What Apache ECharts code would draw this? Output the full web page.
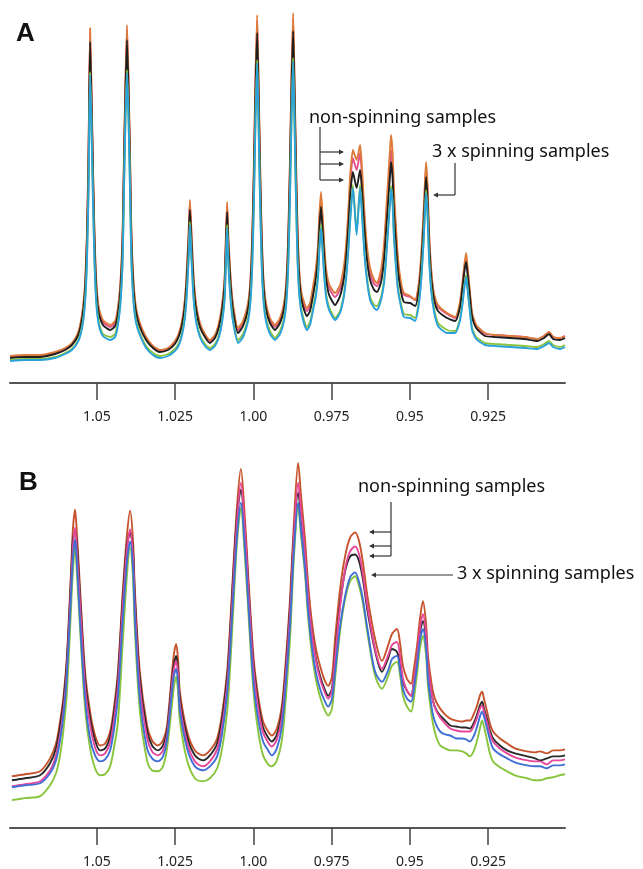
<!DOCTYPE html>
<html>
<head>
<meta charset="utf-8">
<script src="https://cdn.jsdelivr.net/npm/echarts@6/dist/echarts.min.js"></script>
<style>
  html, body { margin: 0; padding: 0; background: #fff; }
  #chart { width: 643px; height: 869px; }
</style>
</head>
<body>
<div id="chart"></div>
<script>
// chemical shift ticks (ppm), same for both panels
const tickValues = [1.05, 1.025, 1.0, 0.975, 0.95, 0.925];
const tickLabels = ["1.05", "1.025", "1.00", "0.975", "0.95", "0.925"];

// ---- panel A : ppm positions and intensities of the 5 spectra ----
const ppmA = [
  1.0778, 1.0730, 1.0682, 1.0634, 1.0602, 1.0580, 1.0561, 1.0551, 1.0543, 1.0537,
  1.0532, 1.0527, 1.0522, 1.0518, 1.0513, 1.0508, 1.0502, 1.0494, 1.0481, 1.0458,
  1.0442, 1.0433, 1.0425, 1.0418, 1.0414, 1.0409, 1.0404, 1.0399, 1.0394, 1.0390,
  1.0383, 1.0375, 1.0363, 1.0343, 1.0321, 1.0299, 1.0273, 1.0251, 1.0238, 1.0228,
  1.0220, 1.0214, 1.0207, 1.0203, 1.0198, 1.0191, 1.0183, 1.0171, 1.0155, 1.0139,
  1.0123, 1.0110, 1.0100, 1.0092, 1.0088, 1.0084, 1.0080, 1.0073, 1.0065, 1.0049,
  1.0033, 1.0017, 1.0009, 1.0003, 0.9998, 0.9993, 0.9988, 0.9984, 0.9979, 0.9974,
  0.9968, 0.9960, 0.9947, 0.9931, 0.9915, 0.9902, 0.9894, 0.9888, 0.9883, 0.9878,
  0.9873, 0.9869, 0.9864, 0.9859, 0.9853, 0.9845, 0.9829, 0.9819, 0.9809, 0.9800,
  0.9793, 0.9789, 0.9784, 0.9779, 0.9774, 0.9768, 0.9758, 0.9739, 0.9723, 0.9710,
  0.9702, 0.9696, 0.9690, 0.9682, 0.9670, 0.9659, 0.9653, 0.9646, 0.9638, 0.9627,
  0.9614, 0.9605, 0.9592, 0.9582, 0.9575, 0.9568, 0.9563, 0.9560, 0.9555, 0.9551,
  0.9544, 0.9538, 0.9528, 0.9519, 0.9499, 0.9483, 0.9471, 0.9463, 0.9456, 0.9451,
  0.9448, 0.9443, 0.9439, 0.9432, 0.9423, 0.9410, 0.9381, 0.9355, 0.9340, 0.9332,
  0.9325, 0.9320, 0.9316, 0.9309, 0.9301, 0.9288, 0.9260, 0.9228, 0.9180, 0.9132,
  0.9093, 0.9071, 0.9055, 0.9042, 0.9020, 0.9004
];
const orangeA = [
  27, 28, 28, 31, 35, 40, 50, 62, 80, 105,
  150, 230, 355, 300, 220, 150, 100, 75, 63, 58,
  62, 75, 100, 150, 220, 300, 358, 300, 220, 150,
  100, 75, 60, 46, 37, 33, 35, 42, 50, 62,
  80, 105, 150, 183, 150, 105, 78, 60, 49, 43,
  48, 60, 78, 105, 145, 181, 145, 105, 78, 55,
  62, 80, 105, 155, 225, 310, 368, 310, 225, 155,
  105, 80, 65, 58, 65, 80, 105, 155, 225, 310,
  370, 310, 225, 155, 110, 88, 75, 80, 97, 115,
  140, 168, 191, 168, 140, 115, 99, 90, 98, 118,
  145, 175, 210, 233, 223, 238, 215, 175, 140, 115,
  103, 100, 113, 140, 175, 210, 235, 248, 230, 195,
  155, 125, 100, 90, 87, 83, 100, 130, 170, 205,
  221, 195, 155, 115, 90, 78, 70, 66, 80, 100,
  120, 130, 118, 95, 70, 58, 50, 48, 47, 46,
  44, 47, 51, 46, 45, 47
];
const pinkA = [
  26, 27, 27, 30, 34, 39, 49, 61, 79, 103,
  148, 227, 351, 297, 217, 148, 98, 73, 61, 56,
  60, 73, 98, 148, 217, 297, 354, 297, 217, 148,
  98, 73, 59, 45, 36, 32, 34, 41, 49, 61,
  79, 103, 148, 180, 148, 103, 77, 59, 48, 42,
  47, 59, 77, 103, 143, 178, 143, 103, 76, 53,
  60, 78, 103, 152, 221, 305, 363, 305, 221, 152,
  103, 78, 63, 56, 63, 78, 103, 152, 221, 305,
  365, 305, 221, 152, 107, 85, 72, 77, 94, 111,
  135, 163, 185, 163, 135, 111, 95, 86, 94, 113,
  139, 168, 202, 225, 213, 230, 207, 168, 134, 110,
  99, 97, 109, 134, 166, 198, 221, 233, 217, 184,
  147, 120, 97, 88, 86, 83, 98, 127, 166, 200,
  215, 190, 151, 112, 88, 76, 69, 65, 78, 97,
  116, 125, 114, 92, 68, 57, 49, 48, 47, 46,
  44, 47, 51, 46, 45, 47
];
const blackA = [
  25, 26, 26, 29, 33, 38, 47, 58, 75, 99,
  141, 218, 341, 288, 209, 141, 93, 69, 58, 53,
  57, 69, 93, 141, 209, 288, 343, 288, 209, 141,
  93, 70, 56, 43, 35, 31, 33, 39, 47, 58,
  75, 98, 141, 173, 141, 98, 73, 56, 46, 40,
  45, 56, 73, 98, 136, 171, 136, 98, 72, 50,
  57, 74, 98, 144, 211, 295, 350, 295, 211, 144,
  98, 74, 60, 53, 60, 74, 98, 144, 211, 295,
  352, 295, 211, 144, 102, 81, 67, 72, 88, 105,
  128, 155, 176, 155, 128, 105, 88, 78, 87, 106,
  131, 158, 190, 211, 195, 213, 193, 158, 126, 103,
  93, 91, 101, 124, 155, 186, 209, 221, 205, 172,
  137, 112, 91, 81, 80, 77, 93, 121, 158, 191,
  206, 181, 144, 107, 84, 72, 65, 62, 75, 94,
  113, 121, 111, 89, 66, 55, 47, 46, 45, 44,
  42, 45, 49, 44, 43, 45
];
const greenA = [
  23, 24, 24, 26, 30, 34, 42, 52, 66, 88,
  125, 196, 311, 266, 190, 125, 82, 61, 49, 46,
  49, 61, 82, 125, 190, 266, 313, 266, 190, 125,
  82, 62, 50, 37, 30, 27, 29, 34, 40, 50,
  65, 86, 127, 161, 127, 86, 63, 48, 39, 35,
  39, 48, 63, 86, 122, 158, 122, 86, 63, 43,
  49, 65, 86, 126, 190, 270, 323, 270, 190, 126,
  86, 65, 52, 45, 52, 65, 86, 126, 190, 270,
  325, 270, 190, 126, 90, 71, 56, 61, 76, 90,
  112, 137, 158, 137, 112, 90, 76, 65, 72, 90,
  113, 138, 168, 198, 151, 198, 172, 136, 108, 86,
  78, 77, 86, 104, 131, 162, 185, 197, 181, 150,
  117, 96, 79, 69, 68, 65, 82, 108, 144, 178,
  193, 168, 131, 96, 75, 60, 53, 52, 64, 80,
  99, 108, 97, 76, 55, 46, 40, 39, 38, 37,
  36, 39, 42, 38, 36, 38
];
const blueA = [
  22, 23, 23, 25, 29, 33, 41, 50, 64, 85,
  122, 192, 308, 262, 186, 122, 79, 58, 47, 43,
  46, 58, 79, 122, 186, 262, 310, 262, 186, 122,
  80, 60, 48, 35, 28, 25, 27, 32, 38, 48,
  62, 83, 124, 158, 124, 83, 61, 46, 37, 33,
  37, 46, 61, 83, 119, 155, 119, 83, 61, 40,
  46, 62, 83, 123, 186, 266, 320, 266, 186, 123,
  83, 62, 49, 43, 49, 62, 83, 123, 186, 266,
  322, 266, 186, 123, 87, 68, 53, 58, 73, 87,
  108, 133, 155, 133, 108, 87, 73, 63, 70, 88,
  110, 135, 165, 195, 148, 195, 169, 133, 105, 83,
  75, 73, 83, 101, 128, 159, 182, 194, 178, 147,
  114, 93, 76, 66, 65, 62, 79, 105, 141, 175,
  190, 165, 128, 93, 72, 57, 50, 50, 62, 78,
  97, 106, 95, 74, 53, 44, 38, 37, 36, 35,
  34, 37, 40, 36, 34, 36
];

// ---- panel B ----
const ppmB = [
  1.0772, 1.0730, 1.0682, 1.0650, 1.0631, 1.0618, 1.0606, 1.0596, 1.0583, 1.0577,
  1.0570, 1.0564, 1.0554, 1.0538, 1.0522, 1.0506, 1.0490, 1.0474, 1.0458, 1.0446,
  1.0433, 1.0417, 1.0404, 1.0394, 1.0385, 1.0379, 1.0363, 1.0340, 1.0324, 1.0305,
  1.0289, 1.0276, 1.0260, 1.0254, 1.0247, 1.0241, 1.0235, 1.0212, 1.0187, 1.0161,
  1.0139, 1.0116, 1.0100, 1.0084, 1.0075, 1.0065, 1.0052, 1.0040, 1.0027, 1.0017,
  1.0004, 0.9995, 0.9982, 0.9969, 0.9953, 0.9941, 0.9925, 0.9909, 0.9896, 0.9883,
  0.9870, 0.9857, 0.9848, 0.9835, 0.9825, 0.9813, 0.9800, 0.9787, 0.9774, 0.9761,
  0.9749, 0.9739, 0.9723, 0.9707, 0.9691, 0.9675, 0.9662, 0.9650, 0.9634, 0.9611,
  0.9589, 0.9570, 0.9557, 0.9541, 0.9531, 0.9522, 0.9509, 0.9496, 0.9487, 0.9477,
  0.9467, 0.9458, 0.9448, 0.9442, 0.9435, 0.9426, 0.9416, 0.9403, 0.9387, 0.9371,
  0.9352, 0.9333, 0.9320, 0.9308, 0.9295, 0.9285, 0.9276, 0.9269, 0.9263, 0.9253,
  0.9244, 0.9234, 0.9212, 0.9189, 0.9164, 0.9125, 0.9100, 0.9084, 0.9062, 0.9042,
  0.9020, 0.9004
];
const orangeB = [
  52, 54, 57, 70, 85, 107, 135, 173, 257, 300,
  320, 295, 240, 157, 117, 93, 83, 85, 97, 120,
  157, 240, 295, 319, 290, 240, 157, 103, 88, 83,
  88, 103, 157, 175, 185, 170, 137, 97, 78, 73,
  78, 90, 115, 157, 200, 257, 325, 361, 310, 257,
  190, 157, 127, 107, 97, 93, 100, 123, 170, 230,
  310, 367, 335, 290, 245, 207, 180, 163, 150, 143,
  152, 190, 240, 273, 292, 297, 288, 267, 230, 190,
  168, 183, 195, 200, 185, 163, 150, 145, 160, 183,
  212, 228, 205, 173, 155, 137, 127, 120, 114, 110,
  108, 107, 108, 108, 115, 123, 133, 137, 130, 117,
  105, 97, 90, 85, 80, 77, 76, 77, 75, 78,
  78, 79
];
const blackB = [
  48, 50, 53, 65, 80, 102, 130, 168, 250, 290,
  298, 285, 232, 150, 111, 88, 78, 80, 92, 115,
  152, 233, 285, 297, 280, 232, 150, 98, 83, 78,
  83, 98, 150, 165, 173, 160, 130, 92, 73, 68,
  73, 85, 110, 151, 193, 250, 315, 340, 298, 248,
  182, 150, 121, 101, 91, 87, 94, 117, 163, 222,
  298, 337, 315, 275, 232, 196, 170, 153, 141, 133,
  140, 175, 225, 258, 273, 275, 268, 250, 216, 178,
  157, 170, 180, 177, 165, 147, 138, 133, 147, 170,
  198, 208, 190, 160, 144, 128, 119, 113, 108, 103,
  102, 101, 101, 100, 106, 114, 123, 127, 120, 109,
  98, 90, 83, 78, 75, 72, 70, 68, 70, 72,
  72, 73
];
const pinkB = [
  42, 44, 47, 58, 73, 94, 122, 160, 242, 282,
  302, 278, 225, 142, 104, 81, 73, 75, 86, 108,
  144, 225, 280, 300, 274, 225, 142, 91, 77, 73,
  78, 93, 145, 160, 168, 155, 125, 86, 67, 62,
  67, 79, 103, 144, 185, 242, 310, 347, 300, 246,
  178, 145, 116, 96, 86, 82, 89, 111, 157, 216,
  296, 347, 320, 277, 233, 196, 168, 150, 138, 130,
  138, 172, 222, 260, 278, 283, 275, 255, 220, 180,
  160, 173, 184, 187, 172, 150, 138, 133, 148, 172,
  202, 215, 194, 163, 146, 128, 118, 111, 105, 100,
  98, 97, 97, 97, 103, 111, 120, 123, 117, 106,
  95, 87, 80, 75, 71, 68, 67, 67, 64, 68,
  68, 69
];
const blueB = [
  41, 43, 45, 55, 68, 88, 116, 154, 234, 270,
  290, 265, 207, 130, 90, 73, 67, 69, 78, 98,
  132, 212, 268, 288, 262, 212, 130, 80, 70, 67,
  72, 89, 138, 153, 160, 147, 118, 80, 62, 58,
  62, 72, 95, 135, 175, 230, 295, 327, 280, 230,
  164, 132, 105, 87, 78, 73, 80, 102, 147, 204,
  282, 327, 300, 260, 218, 182, 156, 140, 129, 122,
  130, 157, 203, 233, 252, 257, 247, 230, 197, 157,
  147, 158, 170, 173, 158, 140, 130, 127, 140, 163,
  190, 200, 180, 150, 132, 114, 104, 97, 94, 93,
  90, 90, 89, 87, 93, 102, 112, 117, 112, 100,
  89, 80, 74, 70, 66, 63, 62, 62, 60, 63,
  63, 64
];
const greenB = [
  28, 30, 32, 43, 55, 73, 102, 137, 220, 258,
  283, 255, 200, 120, 80, 60, 53, 54, 62, 80,
  107, 190, 255, 282, 252, 200, 118, 68, 58, 57,
  62, 80, 125, 142, 152, 138, 108, 68, 50, 47,
  50, 60, 80, 117, 158, 215, 288, 322, 272, 222,
  155, 122, 92, 73, 64, 62, 68, 88, 132, 190,
  274, 323, 295, 255, 212, 175, 149, 132, 120, 113,
  120, 150, 198, 230, 248, 253, 243, 226, 193, 153,
  140, 152, 163, 167, 153, 133, 122, 117, 130, 155,
  182, 193, 173, 143, 124, 105, 92, 83, 80, 78,
  78, 77, 75, 72, 78, 88, 100, 108, 102, 88,
  75, 67, 61, 57, 53, 50, 48, 48, 50, 51,
  53, 54
];

let mchart = echarts.init(document.getElementById("chart"));

function pairs(xs, ys) {
  return xs.map((x, i) => [x, ys[i]]);
}

function ppmAxis(gridIndex) {
  return {
    type: "value",
    gridIndex: gridIndex,
    min: 0.9004,
    max: 1.0778,
    inverse: true,
    splitLine: { show: false },
    axisLine: { show: true, onZero: false, lineStyle: { color: "#555", width: 2 } },
    axisTick: {
      show: true,
      length: 17,
      customValues: tickValues,
      lineStyle: { color: "#444", width: 1.5 },
    },
    axisLabel: {
      customValues: tickValues,
      margin: 27,
      color: "#222",
      fontSize: 14,
      fontFamily: "Noto Sans",
      formatter: (v) => {
        let i = tickValues.findIndex((t) => Math.abs(t - v) < 1e-6);
        return i >= 0 ? tickLabels[i] : "";
      },
    },
  };
}

function spec(name, xs, ys, color, axis, smooth) {
  return {
    name: name,
    type: "line",
    xAxisIndex: axis,
    yAxisIndex: axis,
    data: pairs(xs, ys),
    showSymbol: false,
    smooth: smooth,
    silent: true,
    lineStyle: { color: color, width: 1.9 },
  };
}

// little arrow: line from (x1,y) to tip (x2,y) with a head at the tip
function arrow(x1, x2, y) {
  let dir = x2 > x1 ? 1 : -1;
  return [
    { type: "line", shape: { x1: x1, y1: y, x2: x2 - dir * 3, y2: y }, style: { stroke: "#333", lineWidth: 1.2 } },
    { type: "polygon", shape: { points: [[x2, y], [x2 - dir * 5, y - 2.5], [x2 - dir * 5, y + 2.5]] }, style: { fill: "#333" } },
  ];
}
function vline(x, y1, y2) {
  return { type: "line", shape: { x1: x, y1: y1, x2: x, y2: y2 }, style: { stroke: "#333", lineWidth: 1.2 } };
}
function label(text, x, y, size, bold, family) {
  return {
    type: "text",
    style: {
      text: text, x: x, y: y,
      font: (bold ? "bold " : "") + size + "px " + family,
      fill: "#111",
      align: "left",
      verticalAlign: "middle",
    },
  };
}

let graphics = [
  label("A", 16, 34, 26, true, "Liberation Sans"),
  label("B", 19, 483, 26, true, "Liberation Sans"),
  // panel A notes
  label("non-spinning samples", 309, 118, 18, false, "Noto Sans"),
  vline(320, 127, 180),
  ...arrow(320, 344, 152),
  ...arrow(320, 344, 164),
  ...arrow(320, 344, 180),
  label("3 x spinning samples", 432, 152, 18, false, "Noto Sans"),
  vline(455, 163, 195),
  ...arrow(455, 433, 195),
  // panel B notes
  label("non-spinning samples", 358, 487, 18, false, "Noto Sans"),
  vline(391, 502, 556),
  ...arrow(391, 369, 532),
  ...arrow(391, 369, 546),
  ...arrow(391, 369, 556),
  label("3 x spinning samples", 457, 574, 18, false, "Noto Sans"),
  ...arrow(453, 371, 575),
];

let option = {
  animation: false,
  backgroundColor: "#fff",
  grid: [
    { left: 10, right: 78, top: 0, height: 383 },
    { left: 10, right: 78, top: 447, height: 383 },
  ],
  xAxis: [ppmAxis(0), ppmAxis(1)],
  yAxis: [
    { type: "value", gridIndex: 0, min: 0, max: 383, show: false },
    { type: "value", gridIndex: 1, min: 0, max: 383, show: false },
  ],
  series: [
    spec("pink A", ppmA, pinkA, "#e5508c", 0, 0.2),
    spec("orange A", ppmA, orangeA, "#de7a3a", 0, 0.2),
    spec("black A", ppmA, blackA, "#1e1e1e", 0, 0.2),
    spec("green A", ppmA, greenA, "#8cc43e", 0, 0.2),
    spec("blue A", ppmA, blueA, "#2aa1da", 0, 0.2),
    spec("orange B", ppmB, orangeB, "#c6532c", 1, 0.3),
    spec("black B", ppmB, blackB, "#2a2a2a", 1, 0.3),
    spec("pink B", ppmB, pinkB, "#e6479a", 1, 0.3),
    spec("green B", ppmB, greenB, "#88c43c", 1, 0.3),
    spec("blue B", ppmB, blueB, "#3f6fd4", 1, 0.3),
  ],
  graphic: graphics,
};
mchart.setOption(option);
</script>
</body>
</html>
